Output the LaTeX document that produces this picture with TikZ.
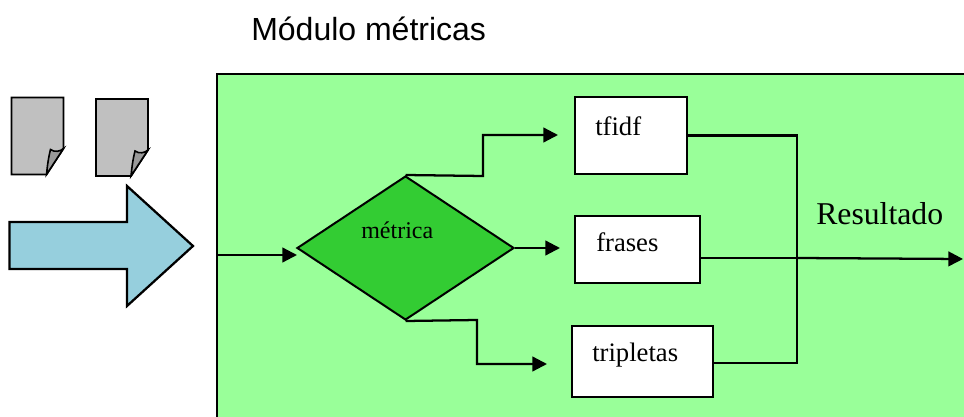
\documentclass[tikz,border=0pt]{standalone}
\usepackage{fontspec}
\setmainfont{Liberation Serif}
\newfontfamily\titulofont{Liberation Sans}
\usetikzlibrary{arrows.meta,shapes.geometric}
\definecolor{verdeclaro}{HTML}{99FF99}
\definecolor{verdeoscuro}{HTML}{33CC33}
\definecolor{azulflecha}{HTML}{96CFDD}
\definecolor{grisdoc}{HTML}{C0C0C0}
\definecolor{grisdoblez}{HTML}{9A9A9A}
\tikzset{
  linea/.style={line width=1.7pt,line join=miter},
  flecha/.style={linea,-{Triangle[length=11pt,width=11pt]}},
  caja/.style={draw,fill=white,line width=1.5pt,inner sep=0pt},
  texto/.style={anchor=north west,inner sep=0.75pt},
  doc/.pic={
    \draw[line width=1.4pt,fill=grisdoc] (0,0) -- (52,0) -- (52,51) -- (35,77) -- (0,77) -- cycle;
    \draw[line width=1.2pt,fill=grisdoblez] (35,77) .. controls (36,67) and (37,60) .. (39,52) .. controls (43,55) and (49,54) .. (52,51) -- cycle;
  }
}
\begin{document}
\begin{tikzpicture}[x=0.75pt,y=0.75pt,yscale=-1,xscale=1]
        \useasboundingbox (0,0) rectangle (964,417);
        \node [anchor=west,inner sep=0.75pt,font=\titulofont\fontsize{24pt}{28pt}\selectfont] (titulo) at (250,29) {Módulo métricas};
        % modulo verde
        \begin{scope}
            \clip (0,0) rectangle (964,417);
            \draw [linea,fill=verdeclaro] (217,74) -- (975,74) -- (975,430) -- (217,430) -- cycle;
        \end{scope}
        % documentos y flecha de entrada
        \pic [yscale=-1] at (11.5,97.5) {doc};
        \pic [yscale=-1] at (96,99) {doc};
        \draw [linea,fill=azulflecha] (9.5,222) -- (127,222) -- (127,186) -- (193,246) -- (127,306) -- (127,269) -- (9.5,269) -- cycle;
        % metrica
        \node [diamond,draw,fill=verdeoscuro,line width=1.5pt,inner sep=0pt,minimum width=217*0.75pt,minimum height=144*0.75pt] (metrica) at (405.5,248) {};
        \node [caja,minimum width=112*0.75pt,minimum height=77*0.75pt] (tfidf) at (631,135.5) {};
        \node [caja,minimum width=125*0.75pt,minimum height=67*0.75pt] (frases) at (637.5,249.5) {};
        \node [caja,minimum width=141*0.75pt,minimum height=71*0.75pt] (tripletas) at (642.5,361.5) {};
        \node [texto,font=\fontsize{18pt}{21pt}\selectfont] (tmetrica) at (360,221) {métrica};
        \node [texto,font=\fontsize{20pt}{24pt}\selectfont] (ttfidf) at (594,115) {tfidf};
        \node [texto,font=\fontsize{20pt}{24pt}\selectfont] (tfrases) at (595,231) {frases};
        \node [texto,font=\fontsize{20pt}{24pt}\selectfont] (ttripletas) at (591,342) {tripletas};
        \node [texto,font=\fontsize{23.8pt}{28pt}\selectfont] (resultado) at (815,201) {Resultado};
        % conexiones
        \coordinate (entrada) at (217,255);
        \coordinate (cruce) at (797,258);
        \coordinate (salida) at (963,259);
        \draw [flecha] (entrada) -- (297,255);
        \draw [flecha] (metrica.north) -- (483,176) -- (483,135) -- (558,135);
        \draw [flecha] (metrica.east) -- (560,248);
        \draw [flecha] (metrica.south) -- (477,320) -- (477,364) -- (547,364);
        \draw [linea] (tfidf.east) -- (797,135.5) -- (797,363) -- (tripletas.east |- 0,363);
        \draw [linea] (frases.east |- cruce) -- (cruce);
        \draw [flecha] (cruce) -- (salida);
    \end{tikzpicture}
\end{document}
